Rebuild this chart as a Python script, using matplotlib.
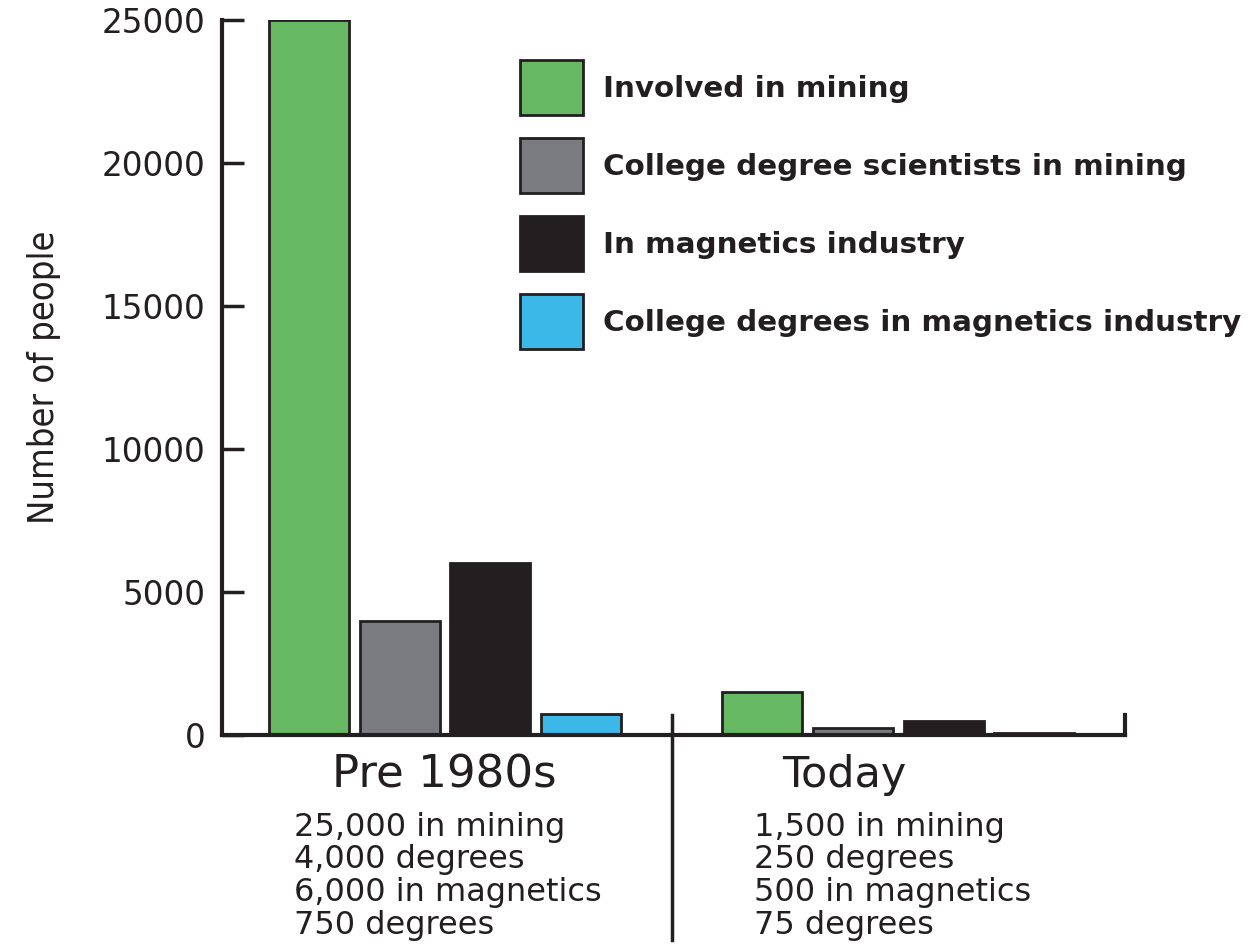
import matplotlib.pyplot as plt
import numpy as np

plt.rcParams['font.family'] = ['DejaVu Sans']

groups = ['Pre 1980s', 'Today']
series = ['Involved in mining', 'College degree scientists in mining',
          'In magnetics industry', 'College degrees in magnetics industry']
mining = [25000, 1500]
mining_degrees = [4000, 250]
magnetics = [6000, 500]
magnetics_degrees = [750, 75]
notes = ['25,000 in mining\n4,000 degrees\n6,000 in magnetics\n750 degrees',
         '1,500 in mining\n250 degrees\n500 in magnetics\n75 degrees']
colors = ['#66b862', '#7a7b7e', '#231f20', '#3bb7e8']
yticks = [0, 5000, 10000, 15000, 20000, 25000]

fig = plt.figure(figsize=(12.52, 9.5), dpi=100)
ax = fig.add_axes([0.1773, 0.2263, 0.7213, 0.7527])

centers = np.array([2.5, 7.5])  # group centres
values = [mining, mining_degrees, magnetics, magnetics_degrees]
handles = []
for i, (vals, c) in enumerate(zip(values, colors)):
    b = ax.bar(centers - 1.5 + i, vals, width=0.88, color=c,
               edgecolor='#231f20', linewidth=2, label=series[i])
    handles.append(b)

ax.set_xlim(0.04, 10.0)
ax.set_ylim(0, 25000)
ax.set_yticks(yticks)
ax.set_yticklabels([str(v) for v in yticks])
ax.set_xticks([])
for s in ['top', 'right']:
    ax.spines[s].set_visible(False)
for s in ['left', 'bottom']:
    ax.spines[s].set_linewidth(3)
    ax.spines[s].set_color('#231f20')
ax.tick_params(axis='y', direction='in', length=16, width=2.5, color='#231f20',
               labelsize=23.5, labelcolor='#231f20', pad=12)
ax.set_ylabel('Number of people', fontsize=26, fontstretch='condensed',
              color='#231f20', labelpad=29)

# divider between the groups and the end tick
ax.axvline(5, ymin=-0.287, ymax=0.028, color='#231f20', lw=2.5, clip_on=False)
ax.axvline(10, ymin=0, ymax=0.028, color='#231f20', lw=3, clip_on=False)

tr = ax.get_xaxis_transform()
label_x = [2.49, 6.9]
label_size = [32.5, 31]
note_x = [0.83, 5.91]
for i in range(2):
    ax.text(label_x[i], -0.056, groups[i], transform=tr, ha='center',
            va='center', fontsize=label_size[i], color='#231f20')
    ax.text(note_x[i], -0.107, notes[i], transform=tr,
            ha='left', va='top', fontsize=23, color='#231f20', linespacing=1.08)

ax.legend(handles=handles, loc='upper left', bbox_to_anchor=(520 / 1252, 1 - 60 / 950),
          bbox_transform=fig.transFigure, frameon=False, borderpad=0, borderaxespad=0,
          prop={'weight': 'bold', 'size': 21.2}, labelcolor='#231f20',
          handlelength=2.14, handleheight=2.5, labelspacing=0.78, handletextpad=0.68)

fig.savefig('out.png', dpi=100)
